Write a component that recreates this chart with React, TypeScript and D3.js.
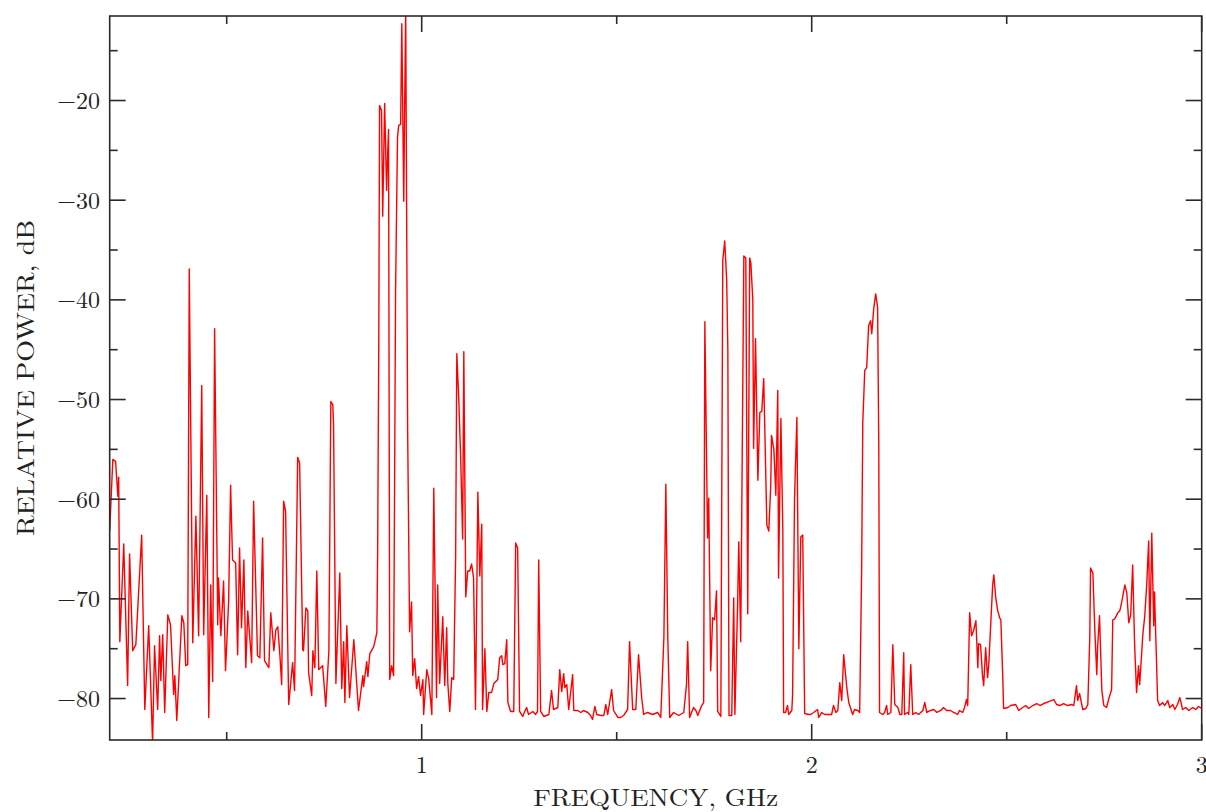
import React from "react";
import * as d3 from "d3";

// Spectrum readings: [frequency GHz, relative power dB]
const BAND_LOW: [number, number][] = [
  [0.200,-63.2],[0.208,-56.0],[0.215,-56.2],[0.221,-59.7],[0.223,-57.8],[0.226,-74.3],[0.236,-64.5],[0.246,-78.7],[0.251,-65.5],[0.259,-75.2],[0.267,-74.6],[0.282,-63.6],[0.290,-81.1],[0.300,-72.7],[0.310,-84.5],[0.315,-74.7],[0.323,-81.1],[0.328,-73.7],[0.331,-78.2],[0.336,-73.6],[0.341,-81.4],[0.349,-71.6],[0.356,-72.6],[0.364,-79.6],[0.367,-77.7],[0.372,-82.2],[0.385,-71.7],[0.390,-72.4],[0.395,-76.7],[0.400,-76.6],[0.404,-36.9],[0.413,-74.4],[0.421,-61.7],[0.428,-73.7],[0.436,-48.6],[0.441,-73.6],[0.449,-59.6],[0.454,-81.9],[0.459,-68.6],[0.464,-78.3],[0.469,-42.9],[0.477,-72.6],[0.479,-67.9],[0.485,-73.7],[0.492,-68.2],[0.497,-77.2],[0.505,-70.2],[0.510,-58.6],[0.515,-66.1],[0.523,-66.4],[0.528,-75.6],[0.533,-64.9],[0.538,-72.9],[0.544,-66.1],[0.549,-76.9],[0.554,-71.2],[0.564,-76.4],[0.569,-60.2],[0.579,-75.7],[0.585,-75.9],[0.592,-63.9],[0.597,-76.2],[0.608,-76.9],[0.613,-71.4],[0.621,-75.2],[0.626,-73.1],[0.631,-72.8],[0.636,-75.4],[0.641,-78.6],[0.646,-60.2],[0.651,-61.2],[0.659,-80.6],[0.669,-76.4],[0.674,-79.2],[0.682,-55.8],[0.687,-56.4],[0.695,-75.1],[0.697,-75.2],[0.703,-70.9],[0.708,-71.2],[0.710,-77.4],[0.718,-79.7],[0.721,-75.2],[0.726,-76.9],[0.731,-67.2],[0.736,-77.1],[0.746,-76.7],[0.754,-80.8],[0.762,-75.2],[0.767,-50.2],[0.772,-50.5],[0.774,-52.5],[0.780,-78.5],[0.790,-67.4],[0.795,-79.0],[0.800,-74.3],[0.803,-80.4],[0.808,-72.7],[0.815,-79.9],[0.826,-74.1],[0.838,-81.2],[0.849,-77.7],[0.851,-78.8],[0.859,-76.3],[0.862,-77.8],[0.867,-75.5],[0.877,-74.8],[0.885,-73.4],[0.887,-65.5],[0.890,-43.9],[0.892,-20.5],[0.897,-21.0],[0.900,-31.6],[0.905,-20.3],[0.910,-29.0],[0.913,-25.0],[0.915,-22.9],[0.918,-78.1],[0.923,-76.7],[0.928,-77.7],[0.933,-39.1],[0.938,-23.7],[0.941,-22.5],[0.946,-22.4],[0.949,-12.3],[0.954,-30.1],[0.956,-21.7],[0.959,-11.0],[0.964,-53.2],[0.969,-73.3],[0.974,-70.3],[0.977,-77.7],[0.982,-76.0],[0.987,-79.0],[0.992,-77.8],[0.997,-79.7]
];

const BAND_MID: [number, number][] = [
  [1.003,-78.1],[1.005,-81.6],[1.013,-77.1],[1.018,-78.0],[1.026,-81.6],[1.031,-58.9],[1.038,-79.9],[1.041,-68.6],[1.046,-78.5],[1.054,-71.8],[1.059,-78.7],[1.064,-72.9],[1.067,-78.5],[1.072,-81.3],[1.077,-77.9],[1.082,-78.1],[1.087,-65.8],[1.090,-45.4],[1.095,-49.9],[1.100,-56.0],[1.105,-64.0],[1.108,-45.2],[1.113,-69.8],[1.118,-67.2],[1.123,-67.2],[1.128,-66.5],[1.133,-67.9],[1.138,-81.1],[1.144,-59.3],[1.149,-67.7],[1.154,-62.5],[1.156,-81.1],[1.162,-75.0],[1.167,-81.3],[1.172,-79.4],[1.179,-79.4],[1.185,-78.5],[1.195,-78.1],[1.200,-75.9],[1.205,-75.7],[1.208,-76.6],[1.213,-76.5],[1.218,-74.1],[1.221,-80.4],[1.228,-81.3],[1.236,-81.3],[1.241,-64.4],[1.246,-64.9],[1.251,-81.3],[1.259,-81.8],[1.264,-81.3],[1.269,-80.9],[1.274,-81.6],[1.285,-81.3],[1.292,-81.6],[1.297,-81.3],[1.300,-66.1],[1.305,-81.3],[1.313,-81.8],[1.326,-81.6],[1.333,-79.2],[1.338,-81.1],[1.349,-80.9],[1.354,-77.1],[1.359,-79.3],[1.364,-77.5],[1.367,-78.9],[1.372,-78.6],[1.377,-81.1],[1.387,-77.6],[1.390,-81.2],[1.400,-81.2],[1.408,-81.4],[1.415,-81.2],[1.426,-81.4],[1.433,-81.7],[1.438,-82.1],[1.444,-80.8],[1.449,-81.6],[1.459,-81.7],[1.467,-81.7],[1.472,-80.6],[1.477,-81.6],[1.487,-79.1],[1.492,-81.2],[1.503,-81.9],[1.510,-81.9],[1.518,-81.7],[1.528,-81.1],[1.533,-74.3],[1.541,-81.1],[1.549,-81.1],[1.556,-75.6],[1.564,-79.9],[1.569,-81.6],[1.579,-81.4],[1.592,-81.6],[1.605,-81.4],[1.613,-81.9],[1.621,-73.9],[1.626,-58.5],[1.631,-73.9],[1.636,-81.9],[1.646,-81.4],[1.659,-81.7],[1.672,-81.4],[1.679,-78.6],[1.682,-74.3],[1.687,-81.9],[1.697,-80.9],[1.703,-81.2],[1.708,-81.7],[1.718,-80.7],[1.723,-80.4],[1.726,-42.2],[1.733,-63.9],[1.736,-59.9],[1.741,-77.2],[1.746,-71.9],[1.751,-72.1],[1.756,-69.2],[1.759,-81.3],[1.767,-81.8],[1.772,-36.0],[1.777,-34.1],[1.782,-38.0],[1.785,-45.0],[1.788,-81.7],[1.795,-81.7],[1.800,-69.9],[1.803,-81.6],[1.810,-70.6],[1.813,-64.3],[1.818,-74.3],[1.823,-50.0],[1.826,-35.6],[1.831,-35.8],[1.836,-71.5],[1.841,-35.8],[1.844,-36.3],[1.849,-40.0],[1.851,-54.9],[1.856,-43.9],[1.862,-58.1],[1.867,-51.3],[1.872,-51.2],[1.877,-47.9],[1.885,-62.6],[1.890,-63.2],[1.895,-58.6],[1.897,-53.6],[1.903,-55.0],[1.908,-59.6],[1.913,-49.1],[1.915,-67.9],[1.921,-51.9],[1.926,-63.2],[1.928,-81.4],[1.933,-81.4],[1.938,-80.7],[1.941,-81.6],[1.949,-81.2],[1.951,-79.6],[1.956,-59.9],[1.962,-51.8],[1.967,-75.0],[1.972,-63.8],[1.977,-63.6],[1.982,-81.5],[1.992,-81.6],[1.997,-81.6]
];

const BAND_HIGH: [number, number][] = [
  [2.005,-81.4],[2.015,-81.1],[2.018,-81.9],[2.026,-81.4],[2.033,-81.6],[2.041,-81.6],[2.051,-81.6],[2.056,-80.7],[2.062,-81.4],[2.067,-81.2],[2.072,-78.4],[2.077,-80.2],[2.082,-75.6],[2.090,-78.9],[2.095,-80.4],[2.105,-81.6],[2.110,-81.1],[2.118,-81.2],[2.123,-81.4],[2.128,-67.2],[2.131,-52.3],[2.136,-47.1],[2.141,-46.8],[2.146,-42.6],[2.151,-42.1],[2.154,-43.4],[2.159,-40.9],[2.164,-39.4],[2.169,-40.7],[2.172,-54.6],[2.174,-81.4],[2.182,-81.6],[2.187,-81.4],[2.192,-80.7],[2.195,-81.6],[2.203,-81.4],[2.208,-74.6],[2.213,-80.6],[2.221,-80.9],[2.226,-81.6],[2.231,-81.6],[2.236,-75.4],[2.238,-81.6],[2.246,-81.4],[2.249,-81.6],[2.254,-76.6],[2.259,-81.6],[2.267,-81.4],[2.274,-81.6],[2.285,-81.2],[2.290,-80.4],[2.295,-81.4],[2.305,-81.2],[2.313,-81.1],[2.321,-81.4],[2.331,-81.2],[2.338,-80.9],[2.346,-81.2],[2.356,-81.2],[2.364,-81.4],[2.374,-81.6],[2.379,-81.2],[2.387,-81.4],[2.392,-80.9],[2.397,-80.1],[2.400,-80.7],[2.405,-71.4],[2.410,-73.7],[2.415,-73.2],[2.421,-72.2],[2.426,-76.9],[2.428,-74.5],[2.433,-74.6],[2.438,-77.7],[2.441,-78.7],[2.446,-74.9],[2.451,-77.9],[2.454,-76.6],[2.459,-72.6],[2.464,-68.6],[2.467,-67.6],[2.472,-69.9],[2.477,-71.2],[2.482,-71.9],[2.485,-72.1],[2.490,-77.9],[2.492,-81.0],[2.503,-80.9],[2.510,-80.7],[2.523,-80.6],[2.531,-81.2],[2.541,-80.9],[2.549,-80.7],[2.556,-81.0],[2.567,-80.7],[2.577,-80.5],[2.585,-80.7],[2.595,-80.5],[2.608,-80.3],[2.621,-80.1],[2.628,-80.6],[2.636,-80.7],[2.646,-80.5],[2.656,-80.7],[2.667,-80.6],[2.672,-80.7],[2.679,-78.7],[2.682,-80.2],[2.687,-79.5],[2.695,-81.1],[2.703,-81.0],[2.708,-80.6],[2.713,-73.9],[2.715,-66.9],[2.721,-67.4],[2.726,-73.2],[2.731,-77.6],[2.733,-74.9],[2.738,-71.7],[2.744,-79.2],[2.749,-80.7],[2.756,-80.9],[2.762,-80.0],[2.769,-79.1],[2.772,-72.1],[2.777,-72.0],[2.785,-71.4],[2.790,-71.2],[2.795,-70.3],[2.803,-68.6],[2.808,-69.4],[2.813,-72.4],[2.818,-71.6],[2.823,-66.6],[2.828,-74.6],[2.833,-79.4],[2.838,-76.7],[2.841,-78.6],[2.849,-73.6],[2.854,-71.7],[2.859,-68.6],[2.864,-64.2],[2.867,-74.2],[2.872,-63.4],[2.877,-72.7],[2.879,-69.3],[2.887,-80.2],[2.892,-80.7],[2.900,-80.4],[2.905,-80.7],[2.913,-80.2],[2.918,-80.9],[2.926,-80.6],[2.931,-81.1],[2.938,-80.6],[2.944,-79.9],[2.951,-81.1],[2.959,-80.9],[2.967,-81.2],[2.977,-80.9],[2.985,-81.1],[2.992,-80.8],[3.000,-81.0]
];

const X_MAJOR = [1, 2, 3];
const X_MINOR = [0.5, 1.5, 2.5];
const X_LABELS = ["1", "2", "3"];
const Y_MAJOR = [-20, -30, -40, -50, -60, -70, -80];
const Y_MINOR = [-15, -25, -35, -45, -55, -65, -75];
const X_TITLE = "FREQUENCY, GHz";
const Y_TITLE = "RELATIVE POWER, dB";

const FONT = "'Latin Modern Roman', 'CMU Serif', 'Liberation Serif', 'DejaVu Serif', serif";

export default function App() {
  const W = 1206, H = 812;
  const L = 109.7, R = 1201.7, T = 16, B = 740;
  const x = d3.scaleLinear().domain([0.2, 3]).range([L, R]);
  const y = d3.scaleLinear().domain([-84.16, -11.52]).range([B, T]);
  const data = [...BAND_LOW, ...BAND_MID, ...BAND_HIGH];
  const line = d3.line<[number, number]>().x(d => x(d[0])).y(d => y(d[1]));
  const axisColor = "#2a2a2a";
  const major = 16, minor = 8;

  return (
    <svg width={W} height={H} style={{ position: "absolute", left: 0, top: 0, background: "#fff" }}>
      <defs>
        <clipPath id="plotclip">
          <rect x={L} y={T} width={R - L} height={B - T} />
        </clipPath>
      </defs>
      <rect x={0} y={0} width={W} height={H} fill="#fff" />
      <path d={line(data) || ""} fill="none" stroke="#ff0000" strokeWidth={1.4} strokeLinejoin="round" clipPath="url(#plotclip)" />
      <rect x={L} y={T} width={R - L} height={B - T} fill="none" stroke={axisColor} strokeWidth={1.6} />
      {X_MAJOR.map(v => (
        <g key={"xM" + v}>
          <line x1={x(v)} x2={x(v)} y1={B} y2={B - major} stroke={axisColor} strokeWidth={1.6} />
          <line x1={x(v)} x2={x(v)} y1={T} y2={T + major} stroke={axisColor} strokeWidth={1.6} />
        </g>
      ))}
      {X_MINOR.map(v => (
        <g key={"xm" + v}>
          <line x1={x(v)} x2={x(v)} y1={B} y2={B - minor} stroke={axisColor} strokeWidth={1.6} />
          <line x1={x(v)} x2={x(v)} y1={T} y2={T + minor} stroke={axisColor} strokeWidth={1.6} />
        </g>
      ))}
      {Y_MAJOR.map(v => (
        <g key={"yM" + v}>
          <line x1={L} x2={L + major} y1={y(v)} y2={y(v)} stroke={axisColor} strokeWidth={1.6} />
          <line x1={R} x2={R - major} y1={y(v)} y2={y(v)} stroke={axisColor} strokeWidth={1.6} />
        </g>
      ))}
      {Y_MINOR.map(v => (
        <g key={"ym" + v}>
          <line x1={L} x2={L + minor} y1={y(v)} y2={y(v)} stroke={axisColor} strokeWidth={1.6} />
          <line x1={R} x2={R - minor} y1={y(v)} y2={y(v)} stroke={axisColor} strokeWidth={1.6} />
        </g>
      ))}
      {Y_MAJOR.map(v => (
        <text key={"yl" + v} x={100} y={y(v) + 8.5} textAnchor="end" fontFamily={FONT} fontSize={24} fill="#222">
          {"\u2212" + String(Math.abs(v))}
        </text>
      ))}
      {X_MAJOR.map((v, i) => (
        <text key={"xl" + v} x={x(v)} y={773} textAnchor="middle" fontFamily={FONT} fontSize={24} fill="#222">
          {X_LABELS[i]}
        </text>
      ))}
      <text x={(L + R) / 2} y={806} textAnchor="middle" fontFamily={FONT} fontSize={24} fill="#222"
        textLength={245} lengthAdjust="spacingAndGlyphs">{X_TITLE}</text>
      <text transform={`translate(34, ${(T + B) / 2}) rotate(-90)`} textAnchor="middle" fontFamily={FONT} fontSize={24} fill="#222"
        textLength={316} lengthAdjust="spacingAndGlyphs">{Y_TITLE}</text>
    </svg>
  );
}
